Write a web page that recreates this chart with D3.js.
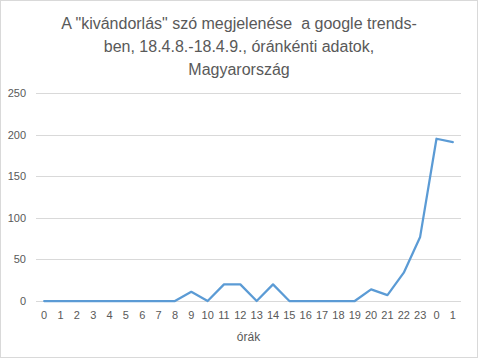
<!DOCTYPE html>
<html><head><meta charset="utf-8">
<script src="https://cdn.jsdelivr.net/npm/d3@7"></script>
<style>body{margin:0;background:#fff}svg{display:block}</style>
</head><body>
<script>
const categories = ["0","1","2","3","4","5","6","7","8","9","10","11","12","13","14","15","16","17","18","19","20","21","22","23","0","1"];
const values = [0,0,0,0,0,0,0,0,0,11,0,20,20,0,20,0,0,0,0,0,14,7,34,77,195,191];
const yTicks = [0,50,100,150,200,250];
const titleLines = ["A \"kivándorlás\" szó megjelenése  a google trends-","ben, 18.4.8.-18.4.9., óránkénti adatok,","Magyarország"];
const xTitle = "órák";

const W = 478, H = 358;
const m = {left:36, right:17, top:93, bottom:57};
const font = "Liberation Sans, Arial, sans-serif";
const svg = d3.select("body").append("svg").attr("width",W).attr("height",H);
svg.append("rect").attr("x",0.5).attr("y",0.5).attr("width",W-1).attr("height",H-1)
  .attr("fill","#fff").attr("stroke","#d9d9d9");

const idx = categories.map((d,i)=>i);
const x = d3.scaleBand().domain(idx).range([m.left, W-m.right]);
const y = d3.scaleLinear().domain([0,250]).range([H-m.bottom, m.top]);

const grid = svg.append("g");
grid.selectAll("line").data(yTicks).join("line")
  .attr("x1",m.left).attr("x2",W-m.right)
  .attr("y1",d=>Math.round(y(d))+0.5).attr("y2",d=>Math.round(y(d))+0.5)
  .attr("stroke","#d9d9d9").attr("stroke-width",1);

const yAxis = d3.axisLeft(y).tickValues(yTicks).tickSize(0).tickPadding(10);
const gy = svg.append("g").attr("transform",`translate(${m.left},0)`).call(yAxis);
gy.select(".domain").remove();
gy.selectAll("text").attr("fill","#595959").style("font-family",font).style("font-size","11px");

const xAxis = d3.axisBottom(x).tickFormat(i=>categories[i]).tickSize(0).tickPadding(10);
const gx = svg.append("g").attr("transform",`translate(0,${H-m.bottom})`).call(xAxis);
gx.select(".domain").remove();
gx.selectAll("text").attr("fill","#595959").style("font-family",font).style("font-size","11px");

const line = d3.line().x((d,i)=>x(i)+x.bandwidth()/2).y(d=>y(d));
svg.append("path").datum(values).attr("d",line).attr("fill","none")
  .attr("stroke","#5b9bd5").attr("stroke-width",2.25).attr("stroke-linejoin","round").attr("stroke-linecap","round");

svg.append("text").attr("x",(m.left+W-m.right)/2).attr("y",341).attr("text-anchor","middle")
  .attr("fill","#595959").style("font-family",font).style("font-size","12px").text(xTitle);

svg.append("g").selectAll("text").data(titleLines).join("text")
  .attr("x",W/2).attr("y",(d,i)=>29+i*23).attr("text-anchor","middle")
  .style("white-space","pre")
  .attr("fill","#595959").style("font-family",font).style("font-size","16px").text(d=>d);
</script>
</body></html>
